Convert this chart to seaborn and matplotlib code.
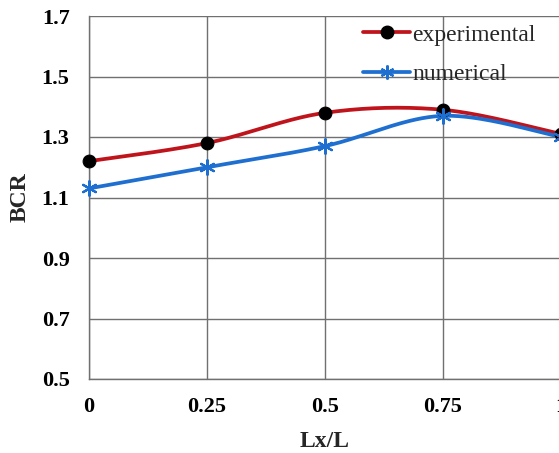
import numpy as np
import pandas as pd
import matplotlib
matplotlib.use("Agg")
import matplotlib.pyplot as plt
from matplotlib.lines import Line2D
import seaborn as sns

# Data
lx_ratio = [0, 0.25, 0.5, 0.75, 1.0]
bcr_experimental = [1.22, 1.28, 1.38, 1.39, 1.31]
bcr_numerical = [1.13, 1.20, 1.27, 1.37, 1.30]
x_ticks = [0, 0.25, 0.5, 0.75, 1]
x_tick_labels = ["0", "0.25", "0.5", "0.75", "1"]
y_ticks = [0.5, 0.7, 0.9, 1.1, 1.3, 1.5, 1.7]

sns.set_theme(style="white")
plt.rcParams["font.family"] = ["Liberation Serif", "DejaVu Serif"]

RED = "#C0141C"
BLUE = "#1F6FD0"
GRID = "#707070"


def smooth_curve(xs, ys, n=40):
    """Cubic Bezier smoothing through the points (Catmull-Rom style tangents)."""
    pts = np.column_stack([xs, ys]).astype(float)
    ext = np.vstack([pts[0], pts, pts[-1]])
    out = []
    t = np.linspace(0, 1, n)[:, None]
    for i in range(len(pts) - 1):
        p0, p1, p2, p3 = ext[i], ext[i + 1], ext[i + 2], ext[i + 3]
        b1 = p1 + (p2 - p0) / 6.0
        b2 = p2 - (p3 - p1) / 6.0
        seg = ((1 - t) ** 3) * p1 + 3 * ((1 - t) ** 2) * t * b1 + 3 * (1 - t) * t ** 2 * b2 + t ** 3 * p2
        out.append(seg if i == 0 else seg[1:])
    arr = np.vstack(out)
    return arr[:, 0], arr[:, 1]


fig = plt.figure(figsize=(5.59, 4.53), dpi=100)
ax = fig.add_axes([89 / 559, 1 - 379 / 453, 472 / 559, 363 / 453])

LW = 2.7
series = [
    ("experimental", bcr_experimental, RED, dict(marker="o", s=85, color="black", edgecolor="black")),
    ("numerical", bcr_numerical, BLUE, dict(marker=(6, 2, 0), s=110, color=BLUE, linewidth=1.6)),
]

handles = []
for name, vals, col, mk in series:
    sx, sy = smooth_curve(lx_ratio, vals)
    curve = pd.DataFrame({"x": sx, "y": sy})
    sns.lineplot(data=curve, x="x", y="y", ax=ax, color=col, linewidth=LW,
                 sort=False, estimator=None, zorder=3, clip_on=False)
    pts = pd.DataFrame({"x": lx_ratio, "y": vals})
    sns.scatterplot(data=pts, x="x", y="y", ax=ax, zorder=4, clip_on=False, **mk)
    if name == "experimental":
        handles.append(Line2D([], [], color=col, linewidth=LW, marker="o",
                              markersize=9, markerfacecolor="black", markeredgecolor="black"))
    else:
        handles.append(Line2D([], [], color=col, linewidth=LW, marker=(6, 2, 0),
                              markersize=10, markeredgecolor=BLUE, markeredgewidth=1.6))

ax.set_xlim(0, 1)
ax.set_ylim(0.5, 1.7)
ax.set_xticks(x_ticks)
ax.set_xticklabels(x_tick_labels)
ax.set_yticks(y_ticks)
ax.set_yticklabels([f"{v:.1f}" for v in y_ticks])

ax.grid(True, color=GRID, linewidth=1.0)
ax.set_axisbelow(True)
for side, sp in ax.spines.items():
    sp.set_color(GRID)
    sp.set_linewidth(1.0)
    sp.set_visible(side in ("left", "bottom"))

ax.tick_params(axis="both", length=0, labelsize=16, colors="black")
ax.tick_params(axis="y", pad=14)
ax.tick_params(axis="x", pad=13)
for lab in ax.get_xticklabels() + ax.get_yticklabels():
    lab.set_fontweight("bold")

ax.set_xlabel("Lx/L", fontsize=17, fontweight="bold", labelpad=10)
ax.set_ylabel("BCR", fontsize=17, fontweight="bold", labelpad=8)

ax.legend(handles, ["experimental", "numerical"], loc="upper left",
          bbox_to_anchor=((363 - 89) / 472, 1 - 8 / 363), frameon=False,
          fontsize=17, handlelength=2.0, handletextpad=0.1,
          labelspacing=0.75, borderaxespad=0.0, borderpad=0.0)

fig.savefig("out.png", dpi=100)
